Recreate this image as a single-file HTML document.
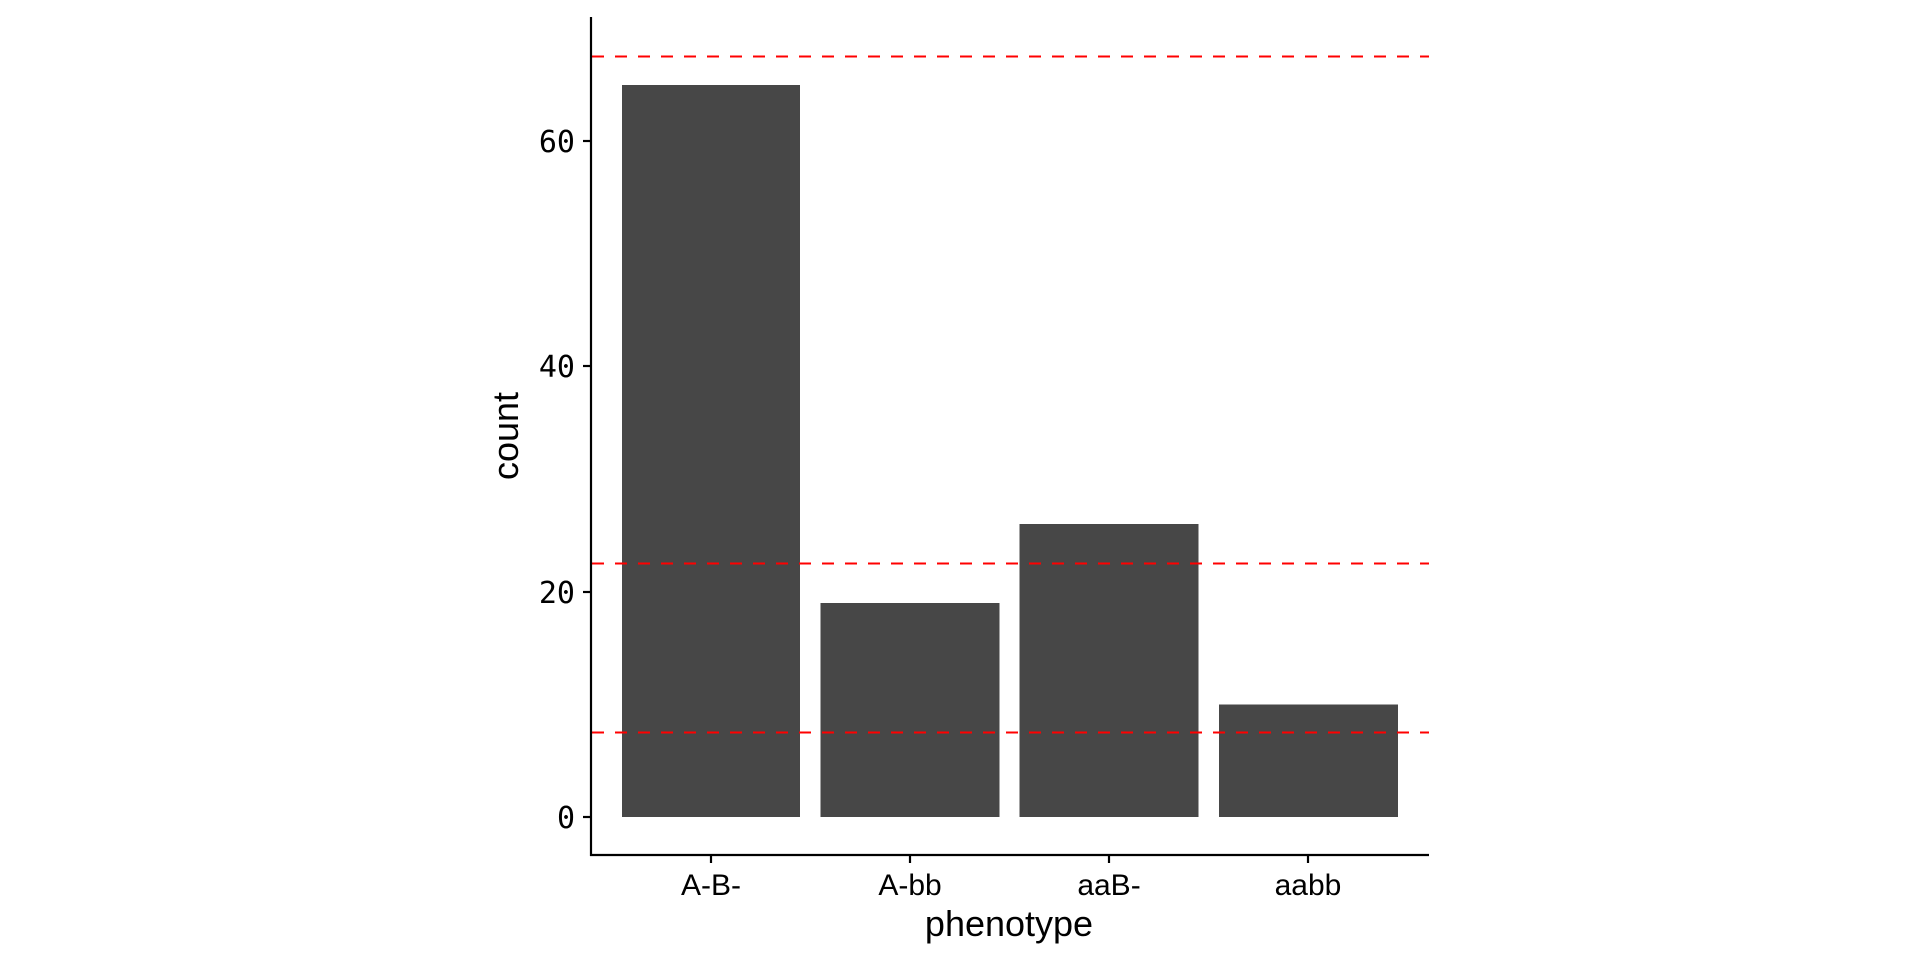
<!DOCTYPE html>
<html><head><meta charset="utf-8"><style>html,body{margin:0;padding:0;background:#fff}</style></head>
<body>
<svg width="1920" height="960" xmlns="http://www.w3.org/2000/svg">
<rect width="1920" height="960" fill="#fff"/>
<g fill="#474747">
<rect x="622" y="85" width="178" height="732"/>
<rect x="820.5" y="603" width="179" height="214"/>
<rect x="1019.5" y="524" width="179" height="293"/>
<rect x="1219" y="704.5" width="179" height="112.5"/>
</g>
<g stroke="#ff0000" stroke-width="2" stroke-dasharray="12,11">
<line x1="592" y1="56.5" x2="1429" y2="56.5"/>
<line x1="592" y1="563.5" x2="1429" y2="563.5"/>
<line x1="592" y1="732.5" x2="1429" y2="732.5"/>
</g>
<g stroke="#000" stroke-width="2.2">
<line x1="591" y1="17" x2="591" y2="856"/>
<line x1="590" y1="855" x2="1429" y2="855"/>
<line x1="583" y1="141" x2="591" y2="141"/>
<line x1="583" y1="366" x2="591" y2="366"/>
<line x1="583" y1="592" x2="591" y2="592"/>
<line x1="583" y1="817" x2="591" y2="817"/>
<line x1="711" y1="855" x2="711" y2="863"/>
<line x1="910" y1="855" x2="910" y2="863"/>
<line x1="1109" y1="855" x2="1109" y2="863"/>
<line x1="1308" y1="855" x2="1308" y2="863"/>
</g>
<g font-family="DejaVu Sans Mono, Liberation Mono, monospace" font-size="30" text-anchor="end" fill="#000">
<text x="575" y="152">60</text>
<text x="575" y="377">40</text>
<text x="575" y="603">20</text>
<text x="575" y="828">0</text>
</g>
<g font-family="Liberation Sans, sans-serif" font-size="30" text-anchor="middle" fill="#000">
<text x="711" y="895">A-B-</text>
<text x="910" y="895">A-bb</text>
<text x="1109" y="895">aaB-</text>
<text x="1308" y="895">aabb</text>
<text x="1009" y="936" font-size="36">phenotype</text>
<text transform="translate(518,436) rotate(-90)" font-size="36">count</text>
</g>
</svg>
</body></html>
